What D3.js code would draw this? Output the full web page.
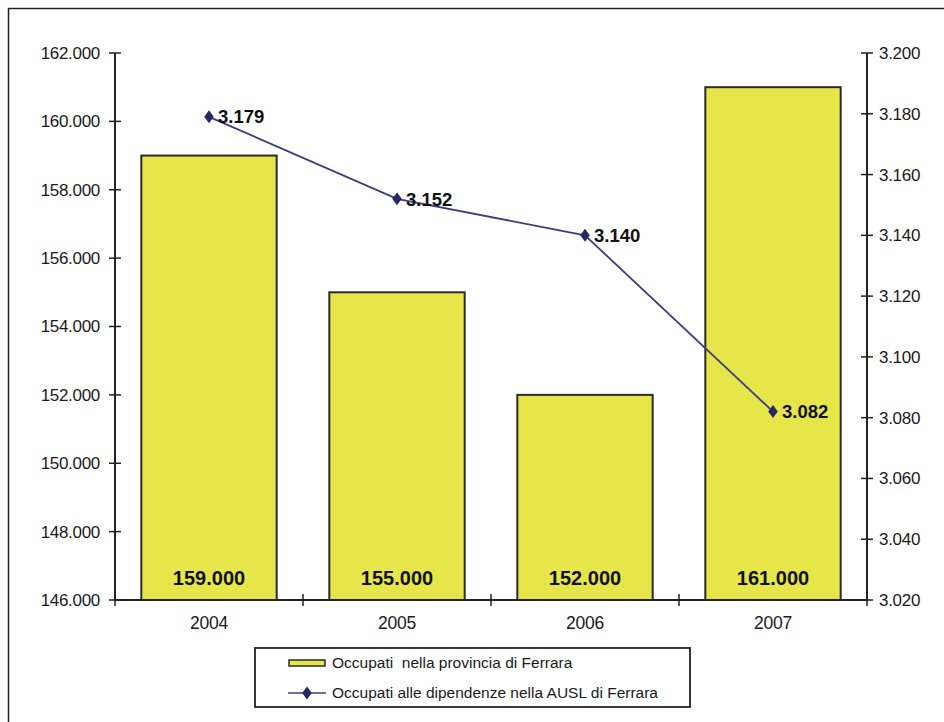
<!DOCTYPE html>
<html>
<head>
<meta charset="utf-8">
<script src="https://cdn.jsdelivr.net/npm/d3@7"></script>
<style>
  html, body { margin: 0; padding: 0; background: #fff; }
  svg { display: block; font-family: "Liberation Sans", Arial, sans-serif; }
</style>
</head>
<body>
<svg id="chart" width="944" height="722"></svg>
<script>
// Anni
const years = ["2004", "2005", "2006", "2007"];
// Occupati nella provincia di Ferrara (asse sinistro)
const occupatiProvincia = [159000, 155000, 152000, 161000];
// Occupati alle dipendenze nella AUSL di Ferrara (asse destro)
const occupatiAusl = [3179, 3152, 3140, 3082];
// Tacche degli assi
const leftTicks = [146000, 148000, 150000, 152000, 154000, 156000, 158000, 160000, 162000];
const rightTicks = [3020, 3040, 3060, 3080, 3100, 3120, 3140, 3160, 3180, 3200];
const legendLabels = ["Occupati  nella provincia di Ferrara", "Occupati alle dipendenze nella AUSL di Ferrara"];

const fmt = d3.formatLocale({ decimal: ",", thousands: ".", grouping: [3], currency: ["", "€"] }).format(",d");

const svg = d3.select("#chart");
const plot = { left: 115, right: 867, top: 53, bottom: 600 };

// Cornice esterna
svg.append("rect")
  .attr("x", 8.5).attr("y", 8.5)
  .attr("width", 960).attr("height", 760)
  .attr("fill", "none").attr("stroke", "#222").attr("stroke-width", 1.5);

const x = d3.scaleBand().domain(years).range([plot.left, plot.right]).paddingInner(0.28).paddingOuter(0.14);
const yL = d3.scaleLinear().domain([146000, 162000]).range([plot.bottom, plot.top]);
const yR = d3.scaleLinear().domain([3020, 3200]).range([plot.bottom, plot.top]);

// Barre
svg.append("g").selectAll("rect")
  .data(years)
  .join("rect")
  .attr("x", d => x(d))
  .attr("y", (d, i) => yL(occupatiProvincia[i]))
  .attr("width", x.bandwidth())
  .attr("height", (d, i) => plot.bottom - yL(occupatiProvincia[i]))
  .attr("fill", "#e6e64a")
  .attr("stroke", "#2a2a2a")
  .attr("stroke-width", 2);

// Etichette dei valori nelle barre
svg.append("g").selectAll("text")
  .data(years)
  .join("text")
  .attr("x", d => x(d) + x.bandwidth() / 2)
  .attr("y", 585)
  .attr("text-anchor", "middle")
  .attr("font-size", 20)
  .attr("font-weight", "bold")
  .attr("fill", "#111")
  .text((d, i) => fmt(occupatiProvincia[i]));

// Asse sinistro
const axisL = svg.append("g").attr("transform", `translate(${plot.left},0)`);
axisL.append("line").attr("x1", 0).attr("x2", 0).attr("y1", plot.top).attr("y2", plot.bottom)
  .attr("stroke", "#222").attr("stroke-width", 2);
axisL.selectAll("line.t").data(leftTicks).join("line").attr("class", "t")
  .attr("x1", -6).attr("x2", 6).attr("y1", d => yL(d)).attr("y2", d => yL(d))
  .attr("stroke", "#222").attr("stroke-width", 1.5);
axisL.selectAll("text").data(leftTicks).join("text")
  .attr("x", -15).attr("y", d => yL(d)).attr("dy", "0.35em")
  .attr("text-anchor", "end").attr("font-size", 17).attr("fill", "#1a1a1a")
  .attr("letter-spacing", "-0.3")
  .text(d => fmt(d));

// Asse destro
const axisR = svg.append("g").attr("transform", `translate(${plot.right},0)`);
axisR.append("line").attr("x1", 0).attr("x2", 0).attr("y1", plot.top).attr("y2", plot.bottom)
  .attr("stroke", "#222").attr("stroke-width", 2);
axisR.selectAll("line.t").data(rightTicks).join("line").attr("class", "t")
  .attr("x1", -6).attr("x2", 6).attr("y1", d => yR(d)).attr("y2", d => yR(d))
  .attr("stroke", "#222").attr("stroke-width", 1.5);
axisR.selectAll("text").data(rightTicks).join("text")
  .attr("x", 12).attr("y", d => yR(d)).attr("dy", "0.35em")
  .attr("text-anchor", "start").attr("font-size", 17).attr("fill", "#1a1a1a")
  .attr("letter-spacing", "-0.3")
  .text(d => fmt(d));

// Asse orizzontale
const step = x.step();
const axisB = svg.append("g");
axisB.append("line").attr("x1", plot.left).attr("x2", plot.right).attr("y1", plot.bottom).attr("y2", plot.bottom)
  .attr("stroke", "#222").attr("stroke-width", 2);
axisB.selectAll("line.t").data(d3.range(years.length + 1)).join("line").attr("class", "t")
  .attr("x1", i => plot.left + i * step).attr("x2", i => plot.left + i * step)
  .attr("y1", plot.bottom - 6).attr("y2", plot.bottom + 6)
  .attr("stroke", "#222").attr("stroke-width", 1.5);
axisB.selectAll("text").data(years).join("text")
  .attr("x", d => x(d) + x.bandwidth() / 2).attr("y", 629)
  .attr("text-anchor", "middle").attr("font-size", 17.5).attr("fill", "#1a1a1a")
  .attr("letter-spacing", "-0.2")
  .text(d => d);

// Linea AUSL
const cx = d => x(d) + x.bandwidth() / 2;
const line = d3.line().x((d, i) => cx(years[i])).y(d => yR(d));
svg.append("path").datum(occupatiAusl)
  .attr("d", line).attr("fill", "none")
  .attr("stroke", "#3d3d80").attr("stroke-width", 1.8);

const diamond = d3.symbol().type(d3.symbolDiamond).size(60);
svg.append("g").selectAll("path").data(occupatiAusl).join("path")
  .attr("transform", (d, i) => `translate(${cx(years[i])},${yR(d)}) scale(1.15,0.9)`)
  .attr("d", diamond).attr("fill", "#272766");

svg.append("g").selectAll("text").data(occupatiAusl).join("text")
  .attr("x", (d, i) => cx(years[i]) + 9).attr("y", d => yR(d)).attr("dy", "0.36em")
  .attr("font-size", 18.5).attr("font-weight", "bold").attr("fill", "#111")
  .text(d => fmt(d));

// Legenda
const lg = svg.append("g");
lg.append("rect").attr("x", 255).attr("y", 648).attr("width", 435).attr("height", 59)
  .attr("fill", "#fff").attr("stroke", "#222").attr("stroke-width", 1.8);
lg.append("rect").attr("x", 289).attr("y", 660).attr("width", 36).attr("height", 6)
  .attr("fill", "#e6e64a").attr("stroke", "#2a2a2a").attr("stroke-width", 1.5);
lg.append("line").attr("x1", 288).attr("x2", 326).attr("y1", 693).attr("y2", 693)
  .attr("stroke", "#3d3d80").attr("stroke-width", 1.6);
lg.append("path").attr("transform", "translate(307,693) scale(1.15,0.9)").attr("d", diamond).attr("fill", "#272766");
lg.selectAll("text").data(legendLabels).join("text")
  .attr("x", 332).attr("y", (d, i) => 663 + i * 30).attr("dy", "0.35em")
  .attr("font-size", 15.5).attr("fill", "#1a1a1a")
  .attr("xml:space", "preserve")
  .style("white-space", "pre")
  .text(d => d);
</script>
</body>
</html>
